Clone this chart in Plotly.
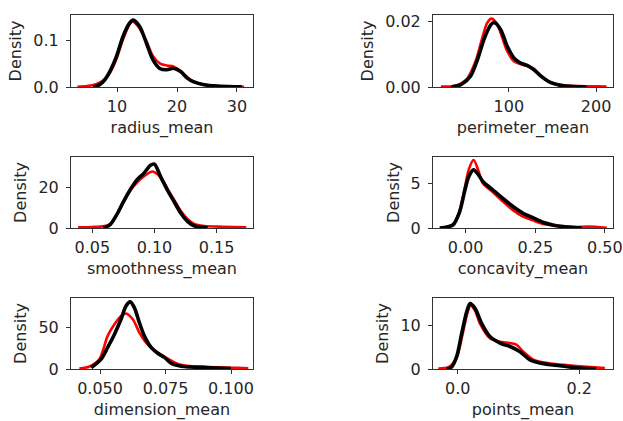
import plotly.graph_objects as go

# ---------------- data ----------------
names = ["radius_mean", "perimeter_mean", "smoothness_mean",
         "concavity_mean", "dimension_mean", "points_mean"]

radius_red_x = [3.4, 5.0, 6.5, 7.5, 8.8, 9.9, 11.0, 12.0, 12.5, 13.5, 14.9, 16.0, 17.2, 18.3, 19.4, 20.6, 21.7, 22.8, 24.5, 26.7, 29.0, 31.2]
radius_red_y = [0.0005, 0.002, 0.006, 0.012, 0.030, 0.060, 0.102, 0.132, 0.140, 0.130, 0.098, 0.066, 0.050, 0.046, 0.044, 0.034, 0.021, 0.012, 0.005, 0.002, 0.001, 0.0003]
radius_blk_x = [6.0, 7.1, 8.0, 8.8, 9.9, 11.0, 12.0, 12.7, 13.8, 14.9, 16.0, 17.2, 18.3, 19.4, 20.6, 21.7, 22.8, 24.5, 26.7, 29.6, 30.8]
radius_blk_y = [0.0, 0.005, 0.016, 0.033, 0.065, 0.108, 0.135, 0.143, 0.129, 0.094, 0.058, 0.039, 0.037, 0.040, 0.033, 0.019, 0.011, 0.005, 0.002, 0.0005, 0.0002]

perim_red_x = [22, 40, 52, 62, 70, 75, 80, 86, 90.5, 98, 105.7, 113, 121, 128.5, 136, 147.5, 160, 180, 200, 212]
perim_red_y = [0.0001, 0.0005, 0.0025, 0.008, 0.0155, 0.0195, 0.0209, 0.0195, 0.0166, 0.0110, 0.0079, 0.0070, 0.0064, 0.0056, 0.0037, 0.0015, 0.0006, 0.0003, 0.0002, 0.0001]
perim_blk_x = [34, 45, 56, 64, 71.5, 79, 83, 90.5, 98, 105.7, 113, 121, 128.5, 136, 147.5, 159, 174, 189]
perim_blk_y = [0.0, 0.0007, 0.0033, 0.0084, 0.0146, 0.0189, 0.0197, 0.0176, 0.0125, 0.0089, 0.0074, 0.0066, 0.0053, 0.0035, 0.0014, 0.0005, 0.0001, 0.0]

smooth_red_x = [0.0386, 0.05, 0.058, 0.0643, 0.0697, 0.0751, 0.0805, 0.0859, 0.0914, 0.0985, 0.1049, 0.1103, 0.1157, 0.1211, 0.1265, 0.1319, 0.14, 0.155, 0.1738]
smooth_red_y = [0.3, 0.5, 0.8, 2.0, 6.5, 12.5, 18.5, 22.5, 25.5, 27.9, 25.0, 19.5, 14.0, 8.5, 4.5, 2.0, 1.0, 0.6, 0.3]
smooth_blk_x = [0.0589, 0.0643, 0.0697, 0.0751, 0.0805, 0.0859, 0.0914, 0.0968, 0.1, 0.1049, 0.1103, 0.1157, 0.1211, 0.1265, 0.1319, 0.1427]
smooth_blk_y = [0.0, 1.6, 6.6, 13.1, 18.9, 23.8, 27.0, 31.0, 31.6, 25.4, 18.9, 13.1, 7.4, 3.3, 1.1, 0.1]

concav_red_x = [-0.08, -0.0455, -0.0215, -0.0036, 0.012, 0.0287, 0.045, 0.062, 0.098, 0.134, 0.17, 0.206, 0.241, 0.277, 0.313, 0.35, 0.40, 0.44, 0.507]
concav_red_y = [0.05, 0.4, 1.9, 4.4, 6.6, 7.6, 6.5, 5.0, 4.0, 2.95, 2.0, 1.27, 0.85, 0.45, 0.3, 0.2, 0.12, 0.15, 0.02]
concav_blk_x = [-0.093, -0.0455, -0.0215, -0.0036, 0.012, 0.0287, 0.045, 0.062, 0.098, 0.134, 0.17, 0.206, 0.241, 0.277, 0.313, 0.35, 0.392, 0.416]
concav_blk_y = [0.0, 0.34, 1.8, 4.1, 5.8, 6.5, 6.0, 5.2, 4.25, 3.3, 2.4, 1.64, 1.15, 0.65, 0.34, 0.15, 0.05, 0.02]

dim_red_x = [0.0421, 0.046, 0.0497, 0.0529, 0.0555, 0.058, 0.0599, 0.0625, 0.065, 0.0675, 0.0697, 0.0725, 0.075, 0.0803, 0.0895, 0.1026, 0.1066]
dim_red_y = [0.5, 3.0, 11.7, 40, 54, 64, 67, 60, 44, 32, 25, 19, 14, 5.5, 2.6, 1.5, 0.8]
dim_blk_x = [0.0466, 0.0504, 0.0529, 0.0555, 0.058, 0.0599, 0.0615, 0.0631, 0.065, 0.0669, 0.0695, 0.072, 0.0746, 0.0771, 0.081, 0.0842, 0.0895, 0.095, 0.1]
dim_blk_y = [1.6, 12, 26, 42, 60, 76, 81, 74, 56, 40, 26, 19, 14, 7, 3.2, 2.4, 2.0, 1.0, 0.5]

points_red_x = [-0.032, -0.015, -0.002, 0.008, 0.016, 0.0214, 0.0285, 0.0367, 0.053, 0.0696, 0.086, 0.097, 0.108, 0.125, 0.157, 0.19, 0.242]
points_red_y = [0.1, 0.4, 2.5, 8.0, 13.0, 14.7, 13.5, 10.5, 7.1, 6.3, 6.0, 5.6, 4.0, 2.1, 1.2, 0.76, 0.2]
points_blk_x = [-0.018, -0.01, -0.0016, 0.0066, 0.0148, 0.0203, 0.0285, 0.0395, 0.053, 0.0696, 0.086, 0.1025, 0.119, 0.141, 0.168, 0.201, 0.228]
points_blk_y = [0, 0.46, 2.9, 8.2, 13.2, 15.1, 14.0, 10.5, 7.5, 6.0, 5.2, 4.0, 2.1, 1.2, 0.76, 0.2, 0.05]

# tick values / formats
x_ticks = [[10, 20, 30], [100, 200], [0.05, 0.10, 0.15], [0.0, 0.25, 0.5], [0.05, 0.075, 0.1], [0.0, 0.2]]
x_fmt = ["d", "d", ".2f", ".2f", ".3f", ".1f"]
y_ticks = [[0.0, 0.1], [0.0, 0.02], [0, 20], [0, 5], [0, 50], [0, 10]]
y_fmt = [".1f", ".2f", "d", "d", "d", "d"]

x_ranges = [[2.33, 32.67], [13, 219.4], [0.0329, 0.1792], [-0.117, 0.529], [0.0389, 0.1084], [-0.0406, 0.2554]]
y_ranges = [[0, 0.154], [0, 0.0220], [0, 35.1], [0, 7.94], [0, 85.7], [0, 16.4]]

series = [
    (radius_red_x, radius_red_y, radius_blk_x, radius_blk_y),
    (perim_red_x, perim_red_y, perim_blk_x, perim_blk_y),
    (smooth_red_x, smooth_red_y, smooth_blk_x, smooth_blk_y),
    (concav_red_x, concav_red_y, concav_blk_x, concav_blk_y),
    (dim_red_x, dim_red_y, dim_blk_x, dim_blk_y),
    (points_red_x, points_red_y, points_blk_x, points_blk_y),
]

# ---------------- layout ----------------
W, H = 623, 421
col_px = [(71, 253), (433, 613)]
row_px = [(15, 87), (157, 228), (298, 369)]

FONT = "DejaVu Sans"
TXT = "#262626"
FS = 16

fig = go.Figure()
layout = dict(
    template="none",
    width=W, height=H,
    margin=dict(l=0, r=0, t=0, b=0, autoexpand=False),
    paper_bgcolor="white", plot_bgcolor="white",
    showlegend=False, hovermode=False,
    font=dict(family=FONT, size=FS, color=TXT),
)

for i in range(6):
    r, c = divmod(i, 2)
    n = i + 1
    xa = "x" if n == 1 else f"x{n}"
    ya = "y" if n == 1 else f"y{n}"
    rx, ry, bx, by = series[i]
    fig.add_trace(go.Scatter(x=rx, y=ry, mode="lines", xaxis=xa, yaxis=ya,
                             line=dict(color="red", width=2.6, shape="spline", smoothing=0.8),
                             hoverinfo="skip"))
    fig.add_trace(go.Scatter(x=bx, y=by, mode="lines", xaxis=xa, yaxis=ya,
                             line=dict(color="black", width=3.6, shape="spline", smoothing=0.8),
                             hoverinfo="skip"))
    x0, x1 = col_px[c]
    y0, y1 = row_px[r]
    common = dict(showline=True, linecolor="#333333", linewidth=1, mirror=True,
                  ticks="outside", ticklen=4, tickwidth=1, tickcolor="#333333",
                  showgrid=False, zeroline=False, automargin=False,
                  tickfont=dict(family=FONT, size=FS, color=TXT))
    layout["xaxis" if n == 1 else f"xaxis{n}"] = dict(
        common, domain=[x0 / W, x1 / W], anchor=ya, range=x_ranges[i],
        tickvals=x_ticks[i], tickformat=x_fmt[i], ticklabelstandoff=1,
        title=dict(text=names[i], standoff=6, font=dict(family=FONT, size=FS, color=TXT)))
    layout["yaxis" if n == 1 else f"yaxis{n}"] = dict(
        common, domain=[1 - y1 / H, 1 - y0 / H], anchor=xa, range=y_ranges[i],
        tickvals=y_ticks[i], tickformat=y_fmt[i], ticklabelstandoff=4,
        title=dict(text="Density", standoff=7, font=dict(family=FONT, size=FS, color=TXT)))

fig.update_layout(**layout)
fig.write_html("out.html",
               config={"displayModeBar": False, "staticPlot": True},
               post_script="document.body.style.margin='0';document.body.style.overflow='hidden';")
